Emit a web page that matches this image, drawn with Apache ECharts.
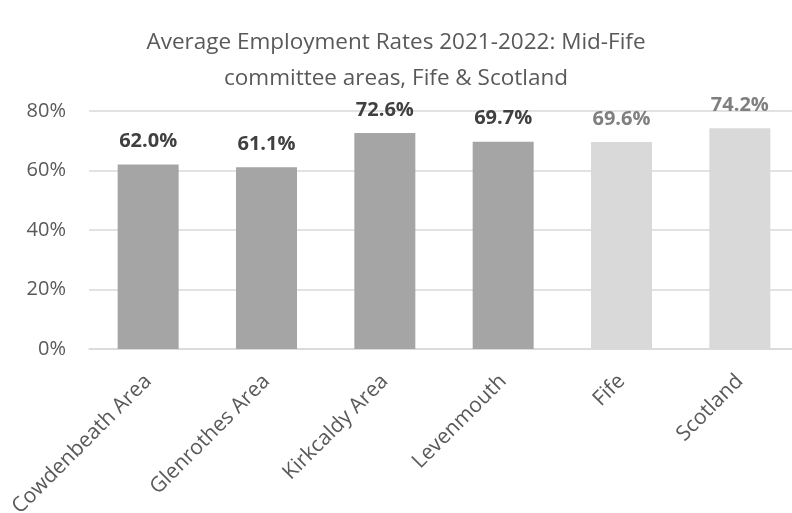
<!DOCTYPE html>
<html>
<head>
<meta charset="utf-8">
<script src="https://cdn.jsdelivr.net/npm/echarts@6/dist/echarts.min.js"></script>
<style>
  html, body { margin: 0; padding: 0; background: #ffffff; }
  #chart { width: 792px; height: 513px; }
</style>
</head>
<body>
<div id="chart"></div>
<script>
// Employment rates (%), 2021-2022 average
const areas = ['Cowdenbeath Area', 'Glenrothes Area', 'Kirkcaldy Area', 'Levenmouth', 'Fife', 'Scotland'];
const rates = [62.0, 61.1, 72.6, 69.7, 69.6, 74.2];
// Comparator areas drawn in a lighter shade
const benchmarks = ['Fife', 'Scotland'];
const yTicks = { min: 0, max: 80, step: 20 };

const FONT = '"Open Sans", "Liberation Sans", sans-serif';

const seriesData = areas.map((name, i) => {
  const bench = benchmarks.includes(name);
  return {
    value: rates[i],
    itemStyle: { color: bench ? '#d9d9d9' : '#a5a5a5' },
    label: { color: bench ? '#7f7f7f' : '#404040' }
  };
});

const chart = echarts.init(document.getElementById('chart'), null, { renderer: 'canvas' });
chart.setOption({
  animation: false,
  backgroundColor: '#ffffff',
  title: {
    text: 'Average Employment Rates 2021-2022: Mid-Fife\ncommittee areas, Fife & Scotland',
    left: 'center',
    top: 20,
    textStyle: {
      fontFamily: FONT,
      fontWeight: 'normal',
      fontSize: 22.5,
      lineHeight: 36,
      color: '#595959'
    }
  },
  grid: {
    left: 89, top: 111, width: 710, height: 238,
    containLabel: false,
    outerBoundsMode: 'none'
  },
  xAxis: {
    type: 'category',
    data: areas,
    axisLine: { lineStyle: { color: '#d9d9d9', width: 1.5 } },
    axisTick: { show: false },
    axisLabel: {
      rotate: 45,
      interval: 0,
      margin: 29,
      fontFamily: FONT,
      fontSize: 21,
      color: '#595959'
    }
  },
  yAxis: {
    type: 'value',
    min: yTicks.min,
    max: yTicks.max,
    interval: yTicks.step,
    axisLine: { show: false },
    axisTick: { show: false },
    splitLine: { lineStyle: { color: '#d9d9d9', width: 1.5 } },
    axisLabel: {
      formatter: '{value}%',
      margin: 23,
      fontFamily: FONT,
      fontSize: 20,
      color: '#595959'
    }
  },
  series: [{
    type: 'bar',
    data: seriesData,
    barWidth: 61,
    label: {
      show: true,
      position: 'top',
      distance: 13,
      fontFamily: FONT,
      fontWeight: 'bold',
      fontSize: 20,
      formatter: p => p.value.toFixed(1) + '%'
    }
  }]
});
</script>
</body>
</html>
